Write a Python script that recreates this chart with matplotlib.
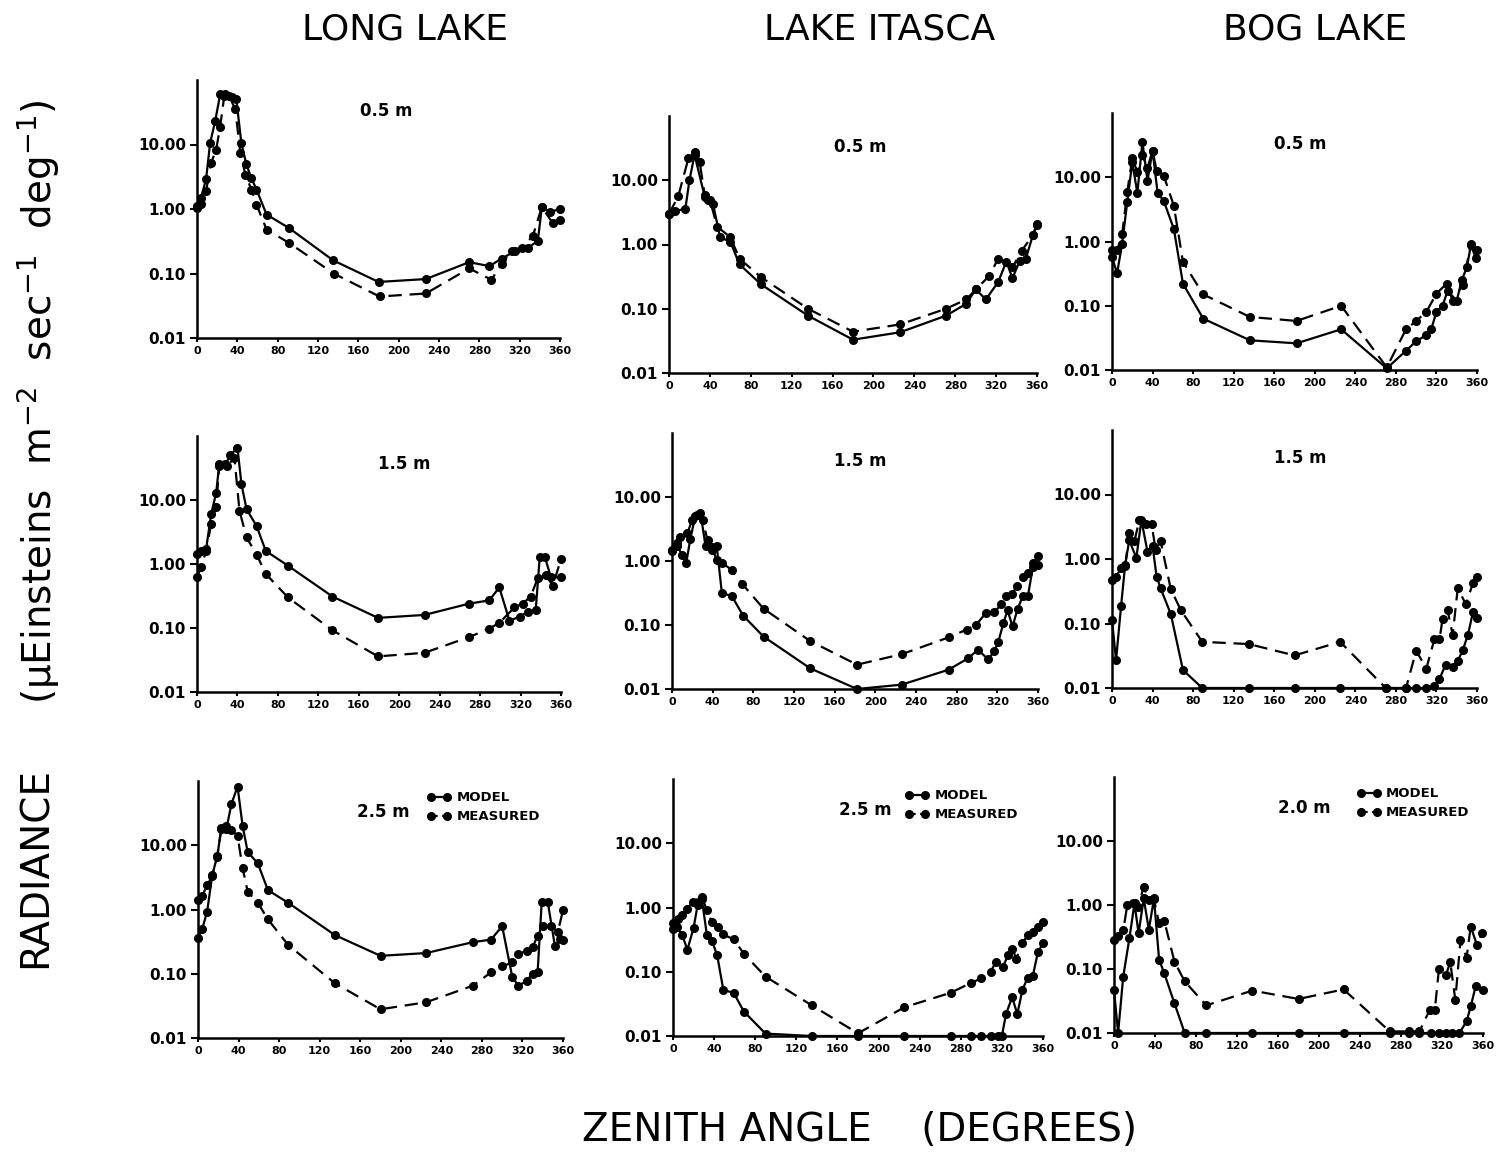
import matplotlib
matplotlib.use('Agg')
import matplotlib.pyplot as plt
from matplotlib.lines import Line2D

plt.rcParams['font.family'] = ['DejaVu Sans']

# zenith angle (deg) and radiance for each lake / depth
long_05_model_x = [0, 4, 9, 13, 18, 23, 28, 35, 39, 44, 49, 54, 59, 69, 91, 135, 180, 227, 270, 290, 302, 315, 328, 338, 342, 350, 360]
long_05_model_y = [1.13, 1.5, 2.9, 10.5, 23, 60, 60, 55, 50, 10.5, 4.9, 3.0, 2.0, 0.82, 0.51, 0.16, 0.074, 0.082, 0.15, 0.13, 0.17, 0.22, 0.25, 0.32, 1.07, 0.9, 1.0]
long_05_meas_x = [0, 4, 9, 14, 19, 23, 27, 32, 38, 43, 48, 54, 59, 69, 91, 136, 181, 227, 270, 292, 302, 312, 322, 333, 342, 353, 360]
long_05_meas_y = [1.05, 1.2, 1.9, 5.2, 8.3, 19, 56, 56, 35, 7.3, 3.4, 2.0, 1.17, 0.48, 0.30, 0.099, 0.044, 0.049, 0.12, 0.08, 0.14, 0.22, 0.25, 0.38, 1.07, 0.6, 0.68]

itasca_05_model_x = [0, 6, 16, 20, 25, 35, 38, 43, 50, 60, 69, 90, 136, 180, 226, 271, 291, 300, 310, 322, 330, 336, 343, 349, 356, 360]
itasca_05_model_y = [2.97, 3.3, 3.6, 10, 25, 5.5, 5.0, 4.3, 1.3, 1.1, 0.49, 0.24, 0.078, 0.033, 0.043, 0.078, 0.12, 0.2, 0.14, 0.26, 0.54, 0.3, 0.55, 0.6, 1.4, 2.1]
itasca_05_meas_x = [0, 9, 19, 25, 30, 35, 40, 47, 60, 69, 90, 136, 180, 226, 271, 291, 300, 313, 322, 336, 345, 356, 360]
itasca_05_meas_y = [3.0, 5.6, 22, 28, 19, 5.9, 5.0, 1.9, 1.3, 0.6, 0.31, 0.1, 0.044, 0.057, 0.1, 0.14, 0.2, 0.32, 0.6, 0.44, 0.8, 1.4, 2.0]

bog_05_model_x = [0, 5, 10, 15, 20, 25, 30, 35, 40, 45, 51, 61, 70, 90, 136, 182, 226, 271, 290, 300, 310, 315, 320, 326, 331, 340, 345, 350, 354, 359]
bog_05_model_y = [0.57, 0.32, 0.92, 4.1, 17, 5.7, 35, 8.9, 26, 5.7, 4.3, 1.57, 0.22, 0.063, 0.029, 0.026, 0.043, 0.0106, 0.02, 0.028, 0.035, 0.044, 0.08, 0.1, 0.17, 0.12, 0.25, 0.4, 0.87, 0.55]
bog_05_meas_x = [0, 5, 10, 15, 20, 25, 30, 35, 40, 44, 51, 61, 70, 90, 136, 182, 226, 271, 290, 300, 310, 320, 330, 336, 346, 354, 360]
bog_05_meas_y = [0.73, 0.73, 1.3, 5.8, 20, 12, 22, 14, 26, 12.7, 10.6, 3.6, 0.48, 0.15, 0.067, 0.058, 0.1, 0.011, 0.043, 0.058, 0.08, 0.155, 0.22, 0.12, 0.21, 0.92, 0.73]

long_15_model_x = [0, 4, 9, 14, 19, 22, 28, 33, 40, 44, 49, 59, 68, 90, 134, 179, 225, 269, 289, 299, 309, 319, 327, 335, 339, 344, 350, 360]
long_15_model_y = [1.41, 1.6, 1.7, 6.0, 13, 36, 36, 50, 66, 17.5, 7.2, 3.9, 1.6, 0.94, 0.31, 0.144, 0.16, 0.24, 0.27, 0.43, 0.13, 0.15, 0.18, 0.19, 1.3, 1.3, 0.62, 0.62]
long_15_meas_x = [0, 4, 9, 14, 19, 22, 30, 37, 42, 49, 59, 68, 90, 134, 179, 225, 269, 289, 299, 314, 322, 330, 337, 345, 352, 360]
long_15_meas_y = [0.62, 0.89, 1.6, 4.2, 7.9, 34, 34, 46, 6.8, 2.6, 1.4, 0.7, 0.3, 0.092, 0.036, 0.041, 0.072, 0.098, 0.12, 0.21, 0.24, 0.31, 0.6, 0.67, 0.46, 1.2]

itasca_15_model_x = [0, 5, 10, 14, 18, 23, 28, 33, 39, 44, 49, 59, 70, 90, 136, 182, 226, 272, 291, 301, 311, 317, 321, 326, 330, 335, 340, 345, 350, 355, 360]
itasca_15_model_y = [1.42, 1.7, 1.26, 0.93, 2.2, 5.1, 5.7, 1.7, 1.5, 1.7, 0.32, 0.28, 0.14, 0.066, 0.021, 0.01, 0.0117, 0.02, 0.03, 0.041, 0.029, 0.039, 0.055, 0.107, 0.17, 0.095, 0.18, 0.28, 0.28, 0.81, 0.88]
itasca_15_meas_x = [0, 5, 8, 15, 20, 25, 30, 35, 39, 44, 49, 59, 69, 90, 136, 182, 226, 272, 290, 299, 309, 317, 324, 329, 334, 339, 345, 350, 355, 360]
itasca_15_meas_y = [1.5, 1.9, 2.4, 2.7, 4.4, 5.3, 4.4, 2.1, 1.67, 1.04, 0.94, 0.72, 0.44, 0.18, 0.056, 0.024, 0.035, 0.064, 0.085, 0.1, 0.156, 0.16, 0.21, 0.28, 0.3, 0.4, 0.57, 0.66, 0.93, 1.2]

bog_15_model_x = [0, 4, 9, 13, 17, 24, 29, 35, 40, 44, 48, 58, 70, 89, 135, 180, 225, 270, 290, 300, 310, 318, 323, 329, 336, 341, 346, 351, 356, 360]
bog_15_model_y = [0.114, 0.027, 0.19, 0.82, 1.95, 1.04, 4.0, 1.3, 1.6, 0.53, 0.35, 0.14, 0.019, 0.01, 0.01, 0.01, 0.01, 0.01, 0.01, 0.01, 0.01, 0.0106, 0.0138, 0.023, 0.021, 0.026, 0.039, 0.066, 0.15, 0.12]
bog_15_meas_x = [0, 4, 9, 13, 17, 22, 27, 34, 39, 43, 48, 58, 68, 89, 135, 180, 225, 270, 290, 300, 310, 318, 323, 326, 331, 336, 341, 349, 356, 360]
bog_15_meas_y = [0.48, 0.53, 0.73, 0.77, 2.5, 1.87, 4.0, 3.5, 3.5, 1.4, 1.87, 0.34, 0.16, 0.052, 0.048, 0.032, 0.052, 0.01, 0.01, 0.038, 0.02, 0.057, 0.057, 0.116, 0.16, 0.067, 0.35, 0.2, 0.42, 0.53]

long_25_model_x = [0, 4, 9, 14, 19, 23, 28, 33, 39, 44, 49, 59, 69, 89, 135, 180, 225, 271, 289, 300, 310, 316, 324, 330, 335, 339, 345, 352, 357, 360]
long_25_model_y = [0.365, 0.49, 0.92, 3.4, 6.8, 18, 18, 44, 82, 20, 7.9, 5.2, 2.0, 1.27, 0.4, 0.19, 0.21, 0.31, 0.34, 0.55, 0.089, 0.065, 0.077, 0.1, 0.108, 1.3, 1.3, 0.27, 0.35, 0.34]
long_25_meas_x = [0, 4, 9, 14, 19, 23, 28, 33, 39, 44, 49, 59, 69, 89, 135, 180, 225, 271, 289, 300, 310, 316, 324, 330, 335, 340, 348, 355, 360]
long_25_meas_y = [1.4, 1.6, 2.4, 3.3, 6.6, 18.5, 20, 17.5, 14, 4.4, 1.9, 1.27, 0.7, 0.28, 0.071, 0.028, 0.036, 0.065, 0.105, 0.13, 0.15, 0.2, 0.23, 0.26, 0.39, 0.55, 0.55, 0.45, 0.98]

itasca_25_model_x = [0, 4, 9, 14, 20, 24, 28, 33, 38, 43, 49, 59, 69, 90, 135, 180, 225, 270, 290, 300, 309, 316, 320, 324, 330, 335, 340, 345, 350, 355, 360]
itasca_25_model_y = [0.47, 0.5, 0.37, 0.22, 0.48, 1.1, 1.38, 0.37, 0.3, 0.18, 0.052, 0.047, 0.024, 0.0109, 0.01, 0.01, 0.01, 0.01, 0.01, 0.01, 0.01, 0.01, 0.01, 0.022, 0.04, 0.022, 0.052, 0.081, 0.085, 0.2, 0.28]
itasca_25_meas_x = [0, 5, 9, 14, 19, 24, 28, 33, 38, 44, 49, 59, 69, 90, 135, 180, 225, 270, 290, 300, 309, 314, 321, 326, 330, 334, 340, 345, 350, 355, 360]
itasca_25_meas_y = [0.57, 0.66, 0.76, 0.96, 1.2, 1.2, 1.47, 0.9, 0.59, 0.5, 0.38, 0.32, 0.19, 0.084, 0.03, 0.011, 0.028, 0.047, 0.067, 0.079, 0.1, 0.14, 0.12, 0.18, 0.23, 0.16, 0.28, 0.37, 0.42, 0.5, 0.59]

bog_20_model_x = [0, 4, 9, 15, 20, 24, 29, 34, 39, 44, 49, 59, 69, 90, 135, 180, 224, 269, 288, 298, 309, 317, 324, 330, 337, 344, 348, 353, 360]
bog_20_model_y = [0.047, 0.01, 0.076, 0.3, 1.06, 0.36, 1.27, 0.41, 1.27, 0.14, 0.086, 0.029, 0.01, 0.01, 0.01, 0.01, 0.01, 0.01, 0.01, 0.01, 0.01, 0.01, 0.01, 0.01, 0.01, 0.0152, 0.026, 0.055, 0.047]
bog_20_meas_x = [0, 4, 9, 13, 19, 23, 29, 34, 39, 44, 49, 59, 69, 90, 135, 180, 224, 269, 288, 298, 308, 313, 317, 324, 328, 333, 338, 344, 348, 354, 359]
bog_20_meas_y = [0.28, 0.33, 0.4, 1.0, 1.06, 0.94, 1.88, 1.2, 1.22, 0.52, 0.57, 0.13, 0.064, 0.027, 0.046, 0.034, 0.048, 0.0106, 0.0106, 0.0106, 0.023, 0.023, 0.1, 0.081, 0.13, 0.033, 0.28, 0.15, 0.46, 0.24, 0.36]

lakes = ['LONG LAKE', 'LAKE ITASCA', 'BOG LAKE']
depths = [['0.5 m', '0.5 m', '0.5 m'],
          ['1.5 m', '1.5 m', '1.5 m'],
          ['2.5 m', '2.5 m', '2.0 m']]
series = [
    [(long_05_model_x, long_05_model_y, long_05_meas_x, long_05_meas_y),
     (itasca_05_model_x, itasca_05_model_y, itasca_05_meas_x, itasca_05_meas_y),
     (bog_05_model_x, bog_05_model_y, bog_05_meas_x, bog_05_meas_y)],
    [(long_15_model_x, long_15_model_y, long_15_meas_x, long_15_meas_y),
     (itasca_15_model_x, itasca_15_model_y, itasca_15_meas_x, itasca_15_meas_y),
     (bog_15_model_x, bog_15_model_y, bog_15_meas_x, bog_15_meas_y)],
    [(long_25_model_x, long_25_model_y, long_25_meas_x, long_25_meas_y),
     (itasca_25_model_x, itasca_25_model_y, itasca_25_meas_x, itasca_25_meas_y),
     (bog_20_model_x, bog_20_model_y, bog_20_meas_x, bog_20_meas_y)],
]
yticks = [0.01, 0.1, 1, 10]
ytick_labels = ['0.01', '0.10', '1.00', '10.00']
xticks = [0, 40, 80, 120, 160, 200, 240, 280, 320, 360]

W, H = 1498, 1161
fig = plt.figure(figsize=(W / 100, H / 100), dpi=100)

# panel boxes in pixels: left, right, bottom, top
boxes = [
    [(197, 560, 338, 80), (669, 1037, 373, 116), (1112, 1477, 370, 113)],
    [(197, 561, 692, 436), (672, 1038, 689, 433), (1112, 1477, 688, 430)],
    [(198, 563, 1038, 781), (673, 1043, 1036, 779), (1114, 1483, 1033, 777)],
]
# depth label position inside each panel (axes fraction)
depth_pos = [
    [(0.52, 0.88), (0.52, 0.88), (0.515, 0.88)],
    [(0.57, 0.89), (0.515, 0.89), (0.515, 0.89)],
    [(0.507, 0.88), (0.52, 0.88), (0.515, 0.88)],
]
legend_x = [0.61, 0.61, 0.64]

for r in range(3):
    for c in range(3):
        l, rr, b, t = boxes[r][c]
        ax = fig.add_axes([l / W, (H - b) / H, (rr - l) / W, (b - t) / H])
        mx, my, sx, sy = series[r][c]
        ax.plot(mx, my, color='black', lw=1.6, marker='o', ms=5.5, clip_on=False)
        ax.plot(sx, sy, color='black', lw=1.6, marker='o', ms=5.5, ls=(0, (6, 3.5)), clip_on=False)
        ax.set_yscale('log')
        ax.set_ylim(0.01, 100)
        ax.set_xlim(0, 360)
        ax.set_yticks(yticks)
        ax.set_yticklabels(ytick_labels, fontsize=11, fontweight='bold')
        ax.yaxis.set_minor_locator(matplotlib.ticker.NullLocator())
        ax.set_xticks(xticks)
        ax.set_xticklabels([str(v) for v in xticks], fontsize=8, fontweight='bold')
        ax.tick_params(axis='y', direction='out', length=5, width=1.5, pad=3)
        ax.tick_params(axis='x', direction='out', length=3, width=1.5, pad=3)
        for side in ['top', 'right']:
            ax.spines[side].set_visible(False)
        for side in ['left', 'bottom']:
            ax.spines[side].set_linewidth(1.8)
        ax.patch.set_alpha(0)
        px, py = depth_pos[r][c]
        ax.text(px, py, depths[r][c], transform=ax.transAxes, ha='center', va='center',
                fontsize=12, fontweight='bold')
        if r == 2:
            handles = [Line2D([], [], color='black', lw=1.6, marker='o', ms=5.5),
                       Line2D([], [], color='black', lw=1.6, marker='o', ms=5.5, ls=(0, (3, 2)))]
            ax.legend(handles, ['MODEL', 'MEASURED'], loc='upper left', bbox_to_anchor=(legend_x[c], 0.985),
                      frameon=False, numpoints=2, handlelength=1.8, handletextpad=0.4,
                      borderpad=0, labelspacing=0.45, prop={'weight': 'bold', 'size': 9.5})

# column titles
title_x = [405, 880, 1315]
for name, x in zip(lakes, title_x):
    fig.text(x / W, 1 - 30 / H, name, ha='center', va='center', fontsize=26)

fig.text(36 / W, 1 - 868 / H, 'RADIANCE', rotation=90, ha='center', va='center', fontsize=28)
fig.text(38 / W, 1 - 402 / H, r'(μEinsteins  m$^{-2}$  sec$^{-1}$  deg$^{-1}$)',
         rotation=90, ha='center', va='center', fontsize=28)
fig.text(860 / W, 1 - 1130 / H, 'ZENITH ANGLE    (DEGREES)', ha='center', va='center', fontsize=28)

fig.savefig('out.png', dpi=100, facecolor='white')
